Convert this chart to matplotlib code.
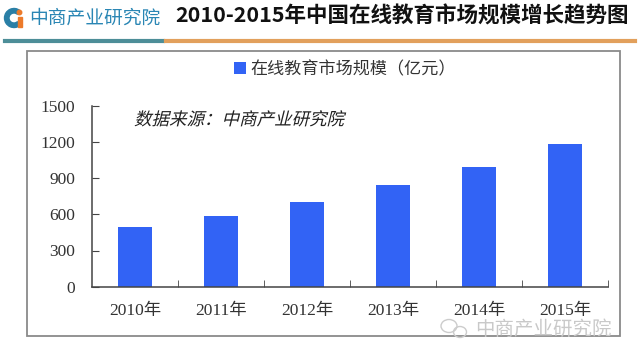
import numpy as np
import matplotlib
matplotlib.use('Agg')
import matplotlib.pyplot as plt
from matplotlib.patches import Rectangle, PathPatch, Wedge, Ellipse
from matplotlib.textpath import TextPath
from matplotlib.font_manager import FontProperties
from matplotlib.transforms import Affine2D, IdentityTransform

plt.rcParams['font.family'] = ['Noto Sans CJK SC', 'DejaVu Sans']

# Data
years = ['2010年', '2011年', '2012年', '2013年', '2014年', '2015年']
market_size = [496, 583, 700, 843, 994, 1182]
yticks = [0, 300, 600, 900, 1200, 1500]
series_name = '在线教育市场规模（亿元）'
title = '2010-2015年中国在线教育市场规模增长趋势图'
source = '数据来源：中商产业研究院'
org = '中商产业研究院'

W, H = 640, 361
fig = plt.figure(figsize=(W / 100, H / 100), dpi=100)
fig.patch.set_facecolor('white')

def fx(px):
    return px / W

def fy(py):
    return 1 - py / H

# Header
fig.text(fx(175), fy(16), title, fontsize=15.5, fontweight='bold',
         color='#111111', va='center', ha='left')
fig.text(fx(29), fy(18), org, fontsize=13.5, color='#2a86b4',
         va='center', ha='left')
# logo icon: open "C" with an orange "i"
fig.patches.append(Wedge((14, H - 18), 9.5, 50, 310, width=4.5,
                         color='#2a7fa6', transform=IdentityTransform()))
fig.patches.append(Rectangle((17.5, H - 27), 4, 10, color='#ec7a2a',
                             transform=IdentityTransform()))
fig.patches.append(Ellipse((19.5, H - 12.5), 4.5, 4.5, color='#ec7a2a',
                           transform=IdentityTransform()))
# header lines
fig.add_artist(plt.Line2D([fx(5), fx(163)], [fy(41), fy(41)], color='#4d8e98', lw=3))
fig.add_artist(plt.Line2D([fx(166), fx(635)], [fy(41), fy(41)], color='#e2a05c', lw=3))

# chart frame
fig.patches.append(Rectangle((fx(27), fy(336)), fx(620) - fx(27), fy(51) - fy(336),
                             fill=False, edgecolor='#8a8a8a', lw=1.3,
                             transform=fig.transFigure))

# Axes
ax = fig.add_axes([fx(92), fy(286.7), fx(608) - fx(92), fy(105.7) - fy(286.7)])
x = np.arange(len(years))
bars = ax.bar(x, market_size, width=0.4, color='#3263f5', label=series_name)

ax.set_xlim(-0.5, len(years) - 0.5)
ax.set_ylim(0, 1500)
ax.set_yticks(yticks)
ax.set_yticklabels([str(v) for v in yticks])
ax.set_xticks(x)
ax.set_xticklabels(years)
ax.set_xticks(x + 0.5, minor=True)

for s in ['top', 'right']:
    ax.spines[s].set_visible(False)
for s in ['left', 'bottom']:
    ax.spines[s].set_color('#444444')
    ax.spines[s].set_linewidth(1.1)

tick_font = ['Liberation Serif', 'Noto Sans CJK SC']
ax.tick_params(axis='y', direction='in', length=5, color='#444444', pad=12,
               labelsize=12.5, labelcolor='#333333')
ax.tick_params(axis='x', which='major', length=0, pad=12,
               labelsize=12.5, labelcolor='#333333')
ax.tick_params(axis='x', which='minor', direction='in', length=5, color='#444444')
for lbl in ax.get_yticklabels() + ax.get_xticklabels():
    lbl.set_family(tick_font)

leg = fig.legend(handles=[bars], labels=[series_name], loc='center',
                 bbox_to_anchor=(fx(345), fy(69)), frameon=False,
                 fontsize=12.3, handlelength=0.7, handleheight=0.7,
                 handletextpad=0.3, labelcolor='#333333')

# italic source text via skewed text path
fp = FontProperties(family='Noto Sans CJK SC')
tp = TextPath((0, 0), source, size=17.5, prop=fp)
tr = Affine2D().skew_deg(14, 0).translate(134, H - 125) + IdentityTransform()
fig.patches.append(PathPatch(tp, color='#222222', lw=0, transform=tr))

# watermark
fig.text(fx(475), fy(329), org, fontsize=14, color='#c9c9c9', va='center', ha='left')
fig.patches.append(Ellipse((449, H - 326), 16, 13, fill=False, edgecolor='#cccccc',
                           lw=1, transform=IdentityTransform()))
fig.patches.append(Ellipse((460, H - 332), 13, 11, fill=False, edgecolor='#cccccc',
                           lw=1, transform=IdentityTransform()))

fig.savefig('out.png', dpi=100)
